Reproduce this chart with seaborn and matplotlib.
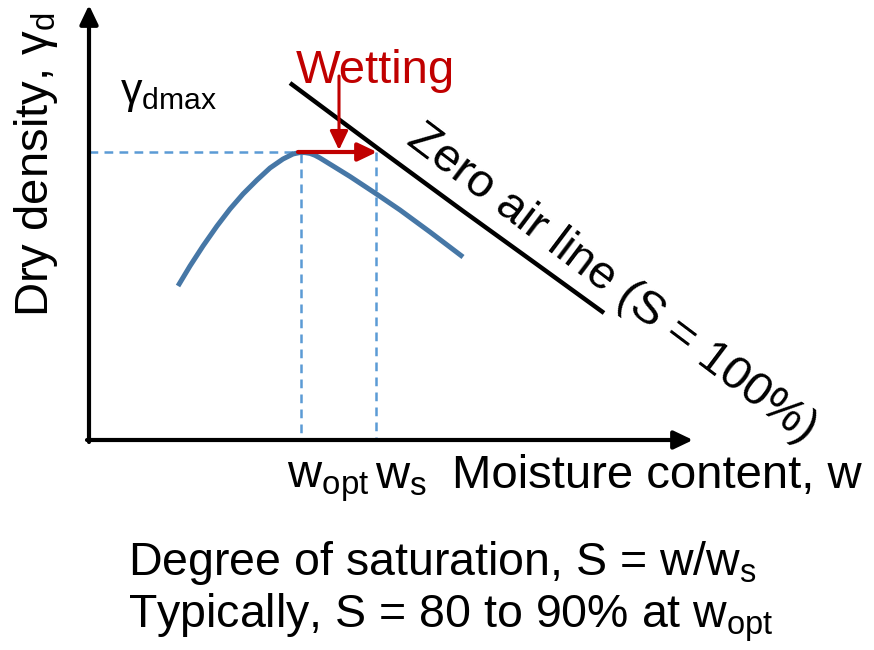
import matplotlib
matplotlib.use("Agg")
import matplotlib.pyplot as plt
import seaborn as sns
import pandas as pd

sns.set_theme(style="white")
plt.rcParams["font.family"] = ["Liberation Sans", "DejaVu Sans"]
plt.rcParams["text.color"] = "black"
plt.rcParams["mathtext.fontset"] = "custom"
plt.rcParams["mathtext.rm"] = "Liberation Sans"
plt.rcParams["mathtext.it"] = "Liberation Sans:italic"
plt.rcParams["mathtext.bf"] = "Liberation Sans:bold"
plt.rcParams["mathtext.sf"] = "Liberation Sans"

# ---- schematic data (drawing units: x to the right, y downward) ----
compaction_w = [178, 190, 203, 217, 230, 243, 257, 270, 283, 293, 300, 305, 310, 315, 320, 333, 350, 375, 400, 430, 463]
compaction_gd = [286, 266, 246, 226, 209, 194, 180, 168, 159, 154, 152.5, 152.6, 153.4, 155.3, 158, 166, 176.5, 193, 210, 232, 257]

zero_air_w = [290, 380, 463, 535, 604]
zero_air_gd = [83, 150, 211, 263, 313]

origin = (89, 440)
x_axis_end = 693
y_axis_end = 5
w_opt = 301
w_s = 376
gd_max = 152
wetting_arrow_top = 76

texts = {
    "ylabel": r"Dry density, $\mathrm{\gamma}_{\mathrm{d}}$",
    "gdmax": r"$\mathrm{\gamma}_{\mathrm{dmax}}$",
    "wetting": "Wetting",
    "zero_air": "Zero air line (S = 100%)",
    "wopt": r"$\mathrm{w}_{\mathrm{opt}}$",
    "ws": r"$\mathrm{w}_{\mathrm{s}}$",
    "xlabel": "Moisture content, w",
    "line1": r"Degree of saturation, S = w/w$_{\mathrm{s}}$",
    "line2": r"Typically, S = 80 to 90% at w$_{\mathrm{opt}}$",
}

BLUE = "#4677a6"
LIGHT_BLUE = "#5b9bd5"
RED = "#c00000"

fig = plt.figure(figsize=(8.74, 6.5), dpi=100)
ax = fig.add_axes([0, 0, 1, 1])
ax.set_xlim(0, 874)
ax.set_ylim(650, 0)
ax.axis("off")

# dashed guide lines
dash_kw = dict(color=LIGHT_BLUE, linewidth=1.8, dashes=(3.5, 2.5))
ax.plot([origin[0], w_opt], [gd_max, gd_max], **dash_kw)
ax.plot([w_opt, w_opt], [gd_max + 2, origin[1]], **dash_kw)
ax.plot([w_s, w_s], [gd_max, origin[1]], **dash_kw)

# compaction curve
df_c = pd.DataFrame({"w": compaction_w, "gd": compaction_gd})
sns.lineplot(data=df_c, x="w", y="gd", sort=False, color=BLUE, linewidth=3.6, ax=ax,
             solid_capstyle="butt", solid_joinstyle="round")

# zero air line
df_z = pd.DataFrame({"w": zero_air_w, "gd": zero_air_gd})
sns.lineplot(data=df_z, x="w", y="gd", sort=False, color="black", linewidth=3.2, ax=ax,
             solid_capstyle="butt", solid_joinstyle="round")

ax.set_xlim(0, 874)
ax.set_ylim(650, 0)
ax.set_xlabel("")
ax.set_ylabel("")

# axes arrows
ax_style = "-|>,head_length=1.15,head_width=0.55"
ax.annotate("", xy=(x_axis_end, origin[1]), xytext=(origin[0] - 2, origin[1]),
            arrowprops=dict(arrowstyle=ax_style, lw=3.0, color="black",
                            mutation_scale=10, shrinkA=0, shrinkB=0))
ax.annotate("", xy=(origin[0], y_axis_end), xytext=(origin[0], origin[1] + 2),
            arrowprops=dict(arrowstyle=ax_style, lw=3.0, color="black",
                            mutation_scale=10, shrinkA=0, shrinkB=0))

# wetting arrows
red_style = "-|>,head_length=1.15,head_width=0.55"
ax.annotate("", xy=(w_s + 1, gd_max), xytext=(w_opt - 3, gd_max),
            arrowprops=dict(arrowstyle=red_style, lw=3.0, color=RED,
                            mutation_scale=10, shrinkA=0, shrinkB=0))
ax.annotate("", xy=(339, gd_max - 2), xytext=(339, wetting_arrow_top),
            arrowprops=dict(arrowstyle=red_style, lw=2.2, color=RED,
                            mutation_scale=10, shrinkA=0, shrinkB=0))

# texts
ax.text(36, 165, texts["ylabel"], rotation=90, ha="center", va="center", fontsize=34)
ax.text(120, 103, texts["gdmax"], ha="left", va="baseline", fontsize=31)
ax.text(296, 83, texts["wetting"], ha="left", va="baseline", fontsize=34, color=RED)
ax.text(405, 143, texts["zero_air"], rotation=-37, rotation_mode="anchor",
        ha="left", va="baseline", fontsize=34)
ax.text(287, 488, texts["wopt"], ha="left", va="baseline", fontsize=34)
ax.text(375, 488, texts["ws"], ha="left", va="baseline", fontsize=34)
ax.text(452, 488, texts["xlabel"], ha="left", va="baseline", fontsize=34)
ax.text(128, 575, texts["line1"], ha="left", va="baseline", fontsize=33.5)
ax.text(128, 627, texts["line2"], ha="left", va="baseline", fontsize=33.5)

fig.savefig("out.png", dpi=100)
